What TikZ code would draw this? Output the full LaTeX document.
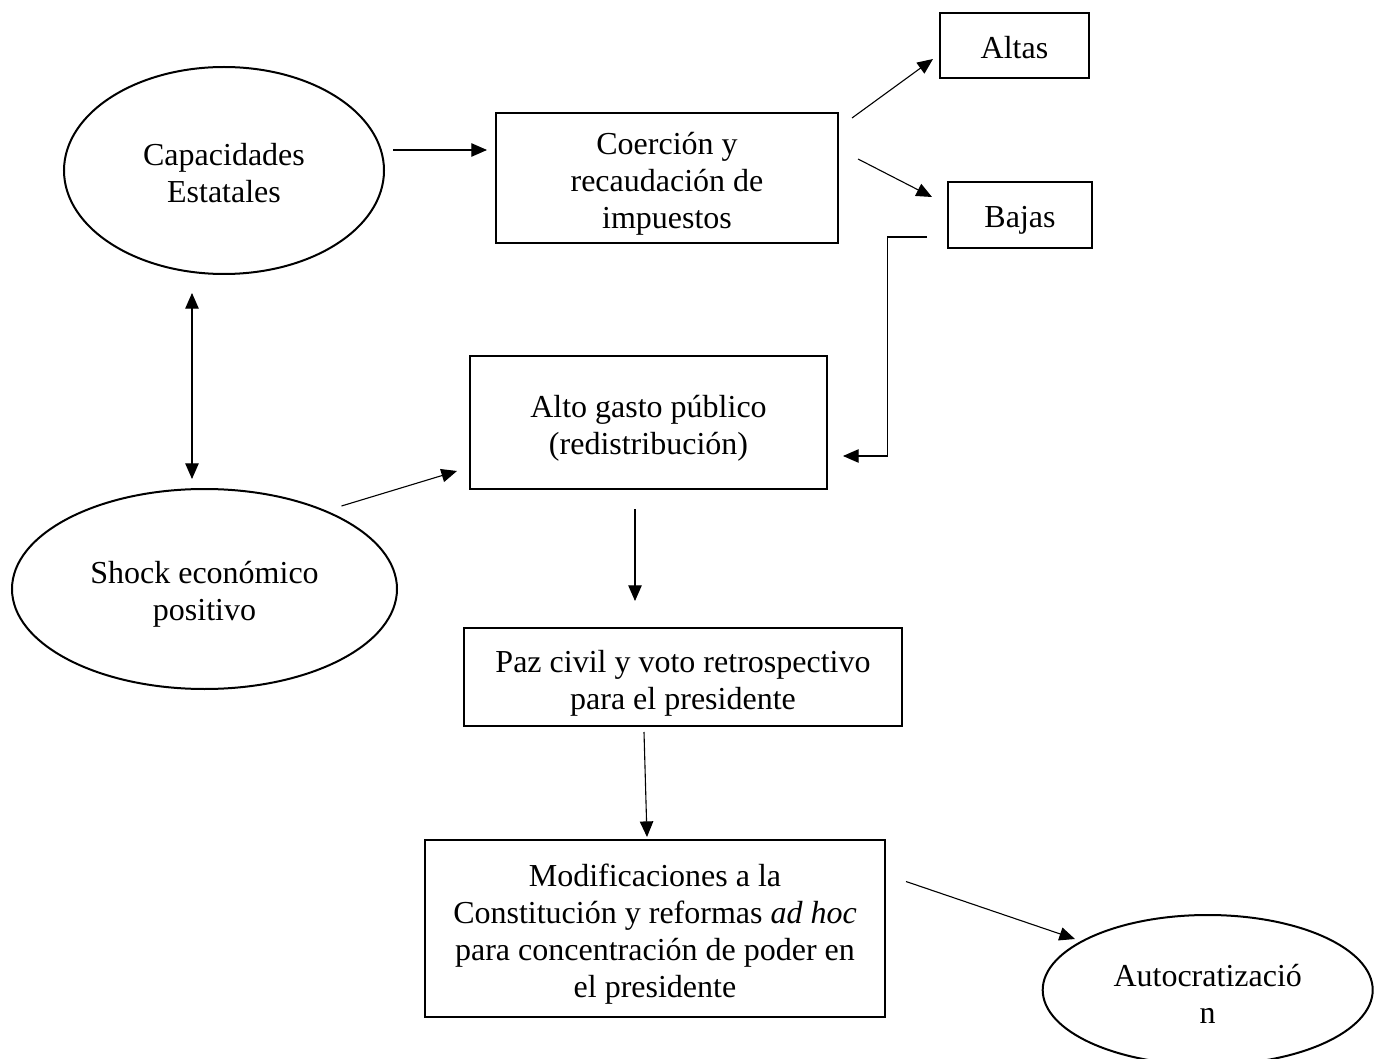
\documentclass[tikz,border=0pt]{standalone}
\usepackage{fontspec}
\setmainfont{Liberation Serif}
\usetikzlibrary{shapes.geometric,arrows.meta}
\begin{document}
\begin{tikzpicture}[x=0.5pt,y=-0.5pt,
  txt/.style={align=center,inner sep=0pt,font=\fontsize{16}{18.5}\selectfont},
  box/.style={draw,line width=0.9pt,rectangle,inner sep=0pt},
  oval/.style={draw,line width=1pt,ellipse,inner sep=0pt},
  arr/.style={line width=0.55pt,-{Triangle[length=7.8pt,width=6.7pt]}},
  dbl/.style={line width=0.55pt,{Triangle[length=7.8pt,width=6.7pt]}-{Triangle[length=7.8pt,width=6.7pt]}}
]
\useasboundingbox (0,0) rectangle (1377,1059);
\clip (0,0) rectangle (1377,1059);

% shapes
\node[oval,minimum width=160pt,minimum height=103.5pt] (cap) at (224,170.5) {};
\node[box,minimum width=171pt,minimum height=65pt] (coer) at (667,178) {};
\node[box,minimum width=74.5pt,minimum height=32.5pt] (altas) at (1014.5,45.5) {};
\node[box,minimum width=72pt,minimum height=33pt] (bajas) at (1020,215) {};
\node[box,minimum width=178.5pt,minimum height=66.5pt] (alto) at (648.5,422.5) {};
\node[oval,minimum width=192.5pt,minimum height=100pt] (shock) at (204.5,589) {};
\node[box,minimum width=219pt,minimum height=49pt] (paz) at (683,677) {};
\node[box,minimum width=230pt,minimum height=88.5pt] (modif) at (655,928.5) {};
\node[oval,minimum width=165pt,minimum height=75pt] (auto) at (1207.7,990) {};

% texts
\node[txt] (capT) at ([yshift=-1.5pt]cap.center) {Capacidades\\Estatales};
\node[txt] (coerT) at ([yshift=-3pt]coer.center) {Coerción y\\recaudación de\\impuestos};
\node[txt] (altasT) at ([yshift=-1.2pt]altas.center) {Altas};
\node[txt] (bajasT) at ([yshift=-2.5pt]bajas.center) {Bajas};
\node[txt] (altoT) at ([yshift=-3pt]alto.center) {Alto gasto público\\(redistribución)};
\node[txt] (shockT) at ([yshift=-2.5pt]shock.center) {Shock económico\\positivo};
\node[txt] (pazT) at ([yshift=-3pt]paz.center) {Paz civil y voto retrospectivo\\para el presidente};
\node[txt] (modifT) at ([yshift=-2.8pt]modif.center) {Modificaciones a la\\Constitución y reformas \textit{ad hoc}\\para concentración de poder en\\el presidente};
\node[txt] (autoT) at ([yshift=-1.8pt]auto.center) {Autocratizació\\n};

% connector end points (the arrows float free of the shapes)
\coordinate (capE) at (393,150);
\coordinate (coerW) at (487,150);
\coordinate (coerNE) at (852,118);
\coordinate (altasW) at (933,59);
\coordinate (coerE) at (858,159);
\coordinate (bajasNW) at (932,197);
\coordinate (bajasW) at (927,237);
\coordinate (elbowA) at (887.5,237);
\coordinate (elbowB) at (887.5,456);
\coordinate (altoE) at (843,456);
\coordinate (capS) at (192,293);
\coordinate (shockN) at (192,479);
\coordinate (shockNE) at (341.5,506);
\coordinate (altoW) at (457,471);
\coordinate (altoS) at (635,509);
\coordinate (pazN) at (635,601);
\coordinate (pazS) at (644,732);
\coordinate (modifN) at (647,837);
\coordinate (modifE) at (906,881.5);
\coordinate (autoNW) at (1075,939);

% connectors
\draw[arr] (capE) -- (coerW);
\draw[arr] (coerNE) -- (altasW);
\draw[arr] (coerE) -- (bajasNW);
\draw[arr] (bajasW) -- (elbowA) -- (elbowB) -- (altoE);
\draw[dbl] (capS) -- (shockN);
\draw[arr] (shockNE) -- (altoW);
\draw[arr] (altoS) -- (pazN);
\draw[arr] (pazS) -- (modifN);
\draw[arr] (modifE) -- (autoNW);
\end{tikzpicture}
\end{document}
